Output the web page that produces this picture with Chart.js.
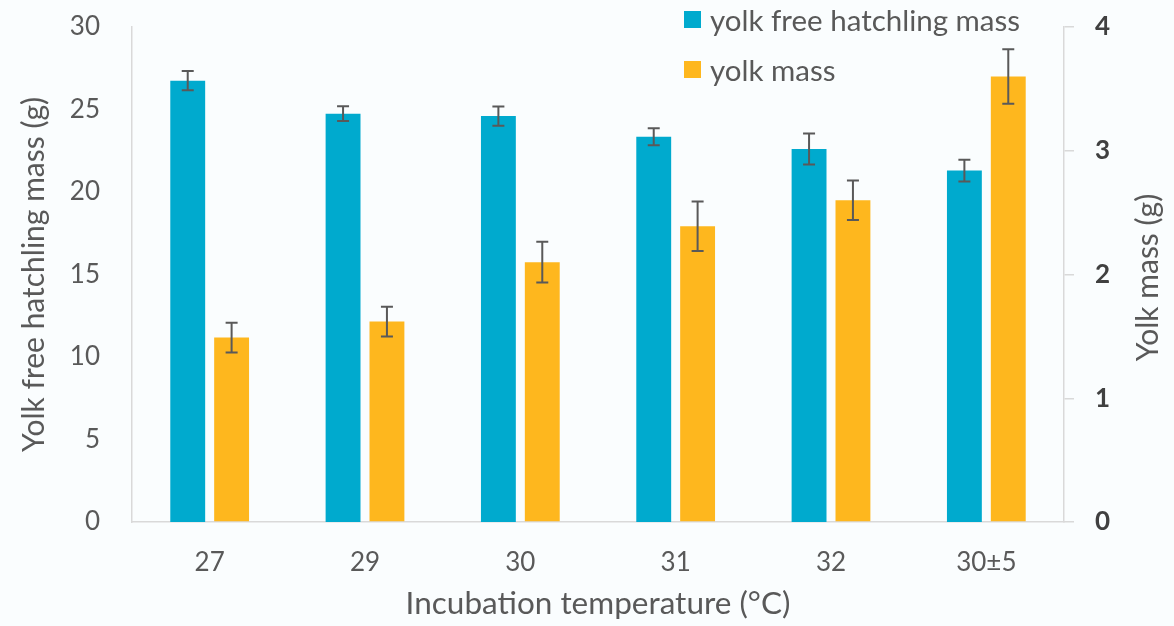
<!DOCTYPE html>
<html>
<head>
<meta charset="utf-8">
<script src="https://cdn.jsdelivr.net/npm/chart.js@4"></script>
<style>
  html, body { margin: 0; padding: 0; background: #fafdfe; }
  #wrap { position: relative; width: 1174px; height: 626px; }
  #legend { position: absolute; left: 684px; top: 0; font-family: Lato, sans-serif; font-size: 29.5px; color: #595959; }
  #legend .item { position: absolute; left: 0; height: 30px; display: flex; align-items: center; white-space: nowrap; }
  #legend span { display: inline-block; width: 17px; height: 17px; margin-right: 9px; }
</style>
</head>
<body>
<div id="wrap">
  <canvas id="chart" width="1174" height="626"></canvas>
  <div id="legend">
    <div class="item" style="top:4px"><span style="background:#00aace"></span>yolk free hatchling mass</div>
    <div class="item" style="top:54px"><span style="background:#feb71e"></span>yolk mass</div>
  </div>
</div>
<script>
const categories = ['27', '29', '30', '31', '32', '30±5']
const hatchlingMass = [26.75, 24.75, 24.6, 23.35, 22.6, 21.3]
const hatchlingErr = [0.58, 0.45, 0.58, 0.52, 0.94, 0.66]
const yolkMass = [1.49, 1.62, 2.1, 2.39, 2.6, 3.6]
const yolkErr = [0.12, 0.12, 0.165, 0.2, 0.16, 0.22]

const textColor = '#595959'
const axisColor = '#d9d9d9'
const font = 'Lato'

// error bars, drawn over the bars through each dataset's own y scale
const errorBars = {
  id: 'errorBars',
  afterDatasetsDraw (chart) {
    const ctx = chart.ctx
    ctx.save()
    ctx.strokeStyle = '#595959'
    ctx.lineWidth = 2
    chart.data.datasets.forEach((ds, i) => {
      const meta = chart.getDatasetMeta(i)
      const scale = chart.scales[ds.yAxisID]
      meta.data.forEach((bar, j) => {
        const v = ds.data[j]
        const e = ds.errors[j]
        const yTop = scale.getPixelForValue(v + e)
        const yBot = scale.getPixelForValue(v - e)
        ctx.beginPath()
        ctx.moveTo(bar.x, yTop)
        ctx.lineTo(bar.x, yBot)
        ctx.moveTo(bar.x - 6, yTop)
        ctx.lineTo(bar.x + 6, yTop)
        ctx.moveTo(bar.x - 6, yBot)
        ctx.lineTo(bar.x + 6, yBot)
        ctx.stroke()
      })
    })
    ctx.restore()
  }
}

// right axis title reads bottom-to-top, like the left one
const rightTitle = {
  id: 'rightTitle',
  afterDraw (chart) {
    const ctx = chart.ctx
    const area = chart.chartArea
    ctx.save()
    ctx.translate(1148, (area.top + area.bottom) / 2 + 3)
    ctx.rotate(-Math.PI / 2)
    ctx.fillStyle = textColor
    ctx.font = `30px ${font}`
    ctx.textAlign = 'center'
    ctx.textBaseline = 'middle'
    ctx.fillText('Yolk mass (g)', 0, 0)
    ctx.restore()
  }
}

const bg = {
  id: 'bg',
  beforeDraw (chart) {
    const ctx = chart.ctx
    ctx.save()
    ctx.fillStyle = '#fafdfe'
    ctx.fillRect(0, 0, chart.width, chart.height)
    ctx.restore()
  }
}

const noPad = (s) => { s.paddingTop = 0; s.paddingBottom = 0 }

const ctx = document.getElementById('chart').getContext('2d')
new Chart(ctx, {
  type: 'bar',
  data: {
    labels: categories,
    datasets: [{
      label: 'yolk free hatchling mass',
      data: hatchlingMass,
      errors: hatchlingErr,
      backgroundColor: '#00aace',
      yAxisID: 'y'
    }, {
      label: 'yolk mass',
      data: yolkMass,
      errors: yolkErr,
      backgroundColor: '#feb71e',
      yAxisID: 'y1'
    }]
  },
  options: {
    responsive: false,
    animation: false,
    categoryPercentage: 0.565,
    barPercentage: 0.795,
    layout: { padding: { top: 27, left: 0, right: 0, bottom: 0 } },
    plugins: {
      legend: { display: false },
      tooltip: { enabled: false }
    },
    scales: {
      x: {
        grid: { display: false, drawTicks: false },
        border: { color: axisColor, width: 1.5 },
        ticks: { color: textColor, font: { family: font, size: 26 }, padding: 25 },
        title: {
          display: true,
          text: 'Incubation temperature (°C)',
          color: textColor,
          font: { family: font, size: 31.5 },
          padding: { top: 0, bottom: 3 }
        },
        afterFit: (s) => { s.height = 104 }
      },
      y: {
        position: 'left',
        min: 0,
        max: 30,
        ticks: { stepSize: 5, color: textColor, font: { family: font, size: 26 }, padding: 32 },
        grid: { display: false, drawTicks: false },
        border: { color: axisColor, width: 1.5 },
        title: {
          display: true,
          text: 'Yolk free hatchling mass (g)',
          color: textColor,
          font: { family: font, size: 30 },
          padding: { top: 16, bottom: 0 }
        },
        afterFit: (s) => { s.width = 132; noPad(s) }
      },
      y1: {
        position: 'right',
        min: 0,
        max: 4,
        ticks: { stepSize: 1, color: '#404040', font: { family: font, size: 26, weight: 'bold' }, padding: 21 },
        grid: { display: true, drawOnChartArea: false, drawTicks: true, tickLength: 10, color: axisColor, lineWidth: 1.5 },
        border: { color: axisColor, width: 1.5 },
        afterFit: (s) => { s.width = 110; noPad(s) }
      }
    }
  },
  plugins: [bg, errorBars, rightTitle]
})
</script>
</body>
</html>
